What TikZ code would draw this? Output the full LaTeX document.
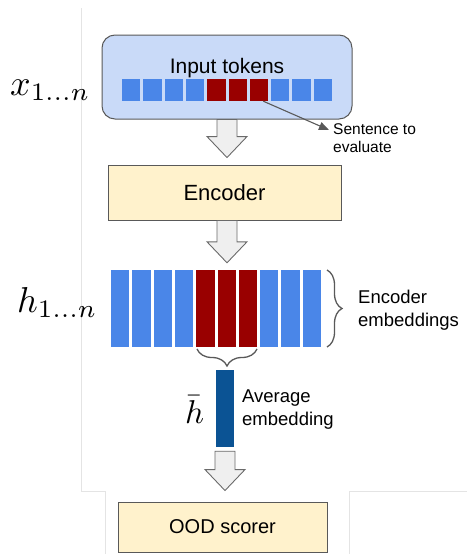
\documentclass[tikz,border=0pt]{standalone}
\usepackage{fontspec}
\setmainfont{Liberation Sans}
\usetikzlibrary{decorations.pathreplacing,arrows.meta,calc}

\definecolor{tokblue}{HTML}{4A86E8}
\definecolor{tokred}{HTML}{990000}
\definecolor{inputfill}{HTML}{C9DAF8}
\definecolor{boxfill}{HTML}{FFF2CC}
\definecolor{edgegray}{HTML}{595959}
\definecolor{avgblue}{HTML}{0B5394}
\definecolor{arrowfill}{HTML}{EFEFEF}
\definecolor{framegray}{HTML}{E4E4E4}

\tikzset{
  inbox/.style={draw=edgegray, line width=1pt, fill=inputfill, rounded corners=13pt},
  stagebox/.style={draw=edgegray, line width=0.9pt, fill=boxfill},
  tok/.style={minimum width=18.3pt, minimum height=22pt, inner sep=0pt},
  emb/.style={minimum width=18.3pt, minimum height=77pt, inner sep=0pt},
  blockarr/.style={draw=edgegray!90, line width=0.9pt, fill=arrowfill, line join=miter},
  pointer/.style={draw=edgegray, line width=1.1pt, -{Triangle[length=10pt,width=8pt]}},
  curly/.style={draw=edgegray, line width=1.3pt, decorate},
  mathlbl/.style={inner sep=0pt, anchor=base west},
  note/.style={inner sep=0pt, align=left, anchor=north west},
  framelines/.style={draw=framegray, line width=0.8pt}
}

% hollow block arrow: #1 = top centre, #2 = tip
\newcommand\blockarrow[2]{%
  \draw[blockarr] let \p1=#1, \p2=#2 in
    (\x1-10pt,\y1) -- (\x1+10pt,\y1) -- (\x1+10pt,\y2+21pt) -- (\x1+20pt,\y2+21pt)
    -- (\x1,\y2) -- (\x1-20pt,\y2+21pt) -- (\x1-10pt,\y2+21pt) -- cycle;}

\begin{document}
\begin{tikzpicture}[x=1pt,y=-1pt]
\useasboundingbox (0,0) rectangle (467,554);

% page edges
\draw[framelines] (81,8) -- (81,491) -- (105,491) -- (105,554);
\draw[framelines] (349,554) -- (349,491) -- (467,491);

% input tokens
\node[inbox, minimum width=250pt, minimum height=84pt] (input) at (227,77) {};
\node[inner sep=0pt, anchor=base, font=\fontsize{21}{24}\selectfont] (intitle) at (227,73) {Input tokens};
\foreach \i/\c in {0/tokblue,1/tokblue,2/tokblue,3/tokblue,4/tokred,5/tokred,6/tokred,7/tokblue,8/tokblue,9/tokblue}
  \node[tok, fill=\c] (t\i) at ({131.15+21.3*\i},90) {};

\node[note, font=\fontsize{15.5}{18}\selectfont] (sent) at (333,123) {Sentence to\\evaluate};
\draw[pointer] ([xshift=-5pt]t6.south east) -- ($(sent.north west)+(-4,7)$);

% encoder
\node[stagebox, minimum width=233pt, minimum height=55pt, font=\fontsize{22}{24}\selectfont] (encoder) at (224.5,192.5) {Encoder};

% encoder embeddings
\foreach \i/\c in {0/tokblue,1/tokblue,2/tokblue,3/tokblue,4/tokred,5/tokred,6/tokred,7/tokblue,8/tokblue,9/tokblue}
  \node[emb, fill=\c] (e\i) at ({120.15+21.3*\i},308.5) {};
\draw[curly, decoration={brace, amplitude=15pt}] (327,270) -- (327,347);
\node[note, font=\fontsize{18.5}{23}\selectfont] (enclbl) at (358,290) {Encoder\\embeddings};

% average over the sentence tokens
\draw[curly, decoration={brace, amplitude=17pt}] (257,349) -- (197,349);
\node[minimum width=18pt, minimum height=77pt, inner sep=0pt, fill=avgblue] (avg) at (225,408.5) {};
\node[note, font=\fontsize{18.5}{23}\selectfont] (avglbl) at (242,390) {Average\\embedding};

% scorer
\node[stagebox, minimum width=209pt, minimum height=50pt, font=\fontsize{20}{24}\selectfont] (ood) at (222.5,527) {OOD scorer};

% math labels
\node[mathlbl] (xlab) at (10,95) {\scalebox{3.6}{$x_{1\ldots n}$}};
\node[mathlbl] (hlab) at (17,312) {\scalebox{3.6}{$h_{1\ldots n}$}};
\node[mathlbl] (hbar) at (185,423) {\scalebox{3.3}{$\bar{h}$}};

% flow arrows
\blockarrow{(input.south)}{($(input.south |- encoder.north)+(0,-7)$)}
\blockarrow{(input.south |- encoder.south)}{($(input.south |- e0.north)+(0,-7)$)}
\blockarrow{($(avg.south)+(0,4)$)}{($(avg.south |- ood.north)+(0,-11)$)}
\end{tikzpicture}
\end{document}
